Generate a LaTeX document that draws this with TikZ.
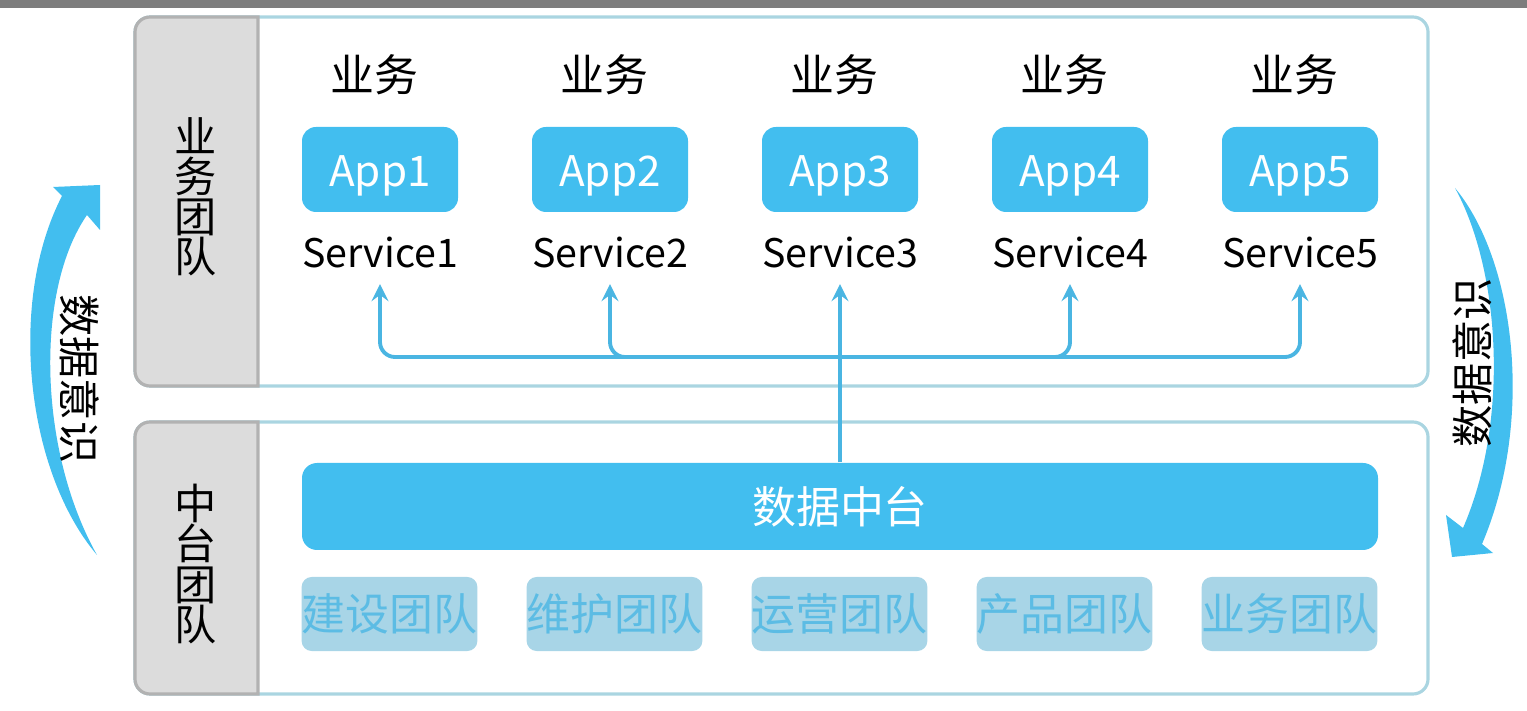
\documentclass[tikz,border=0pt]{standalone}
\usepackage{fontspec}
\newfontfamily\cjk{Noto Sans CJK SC}
\usepackage{tikz}
\usetikzlibrary{arrows,positioning}
\definecolor{appblue}{RGB}{66,190,239}
\definecolor{linkblue}{RGB}{74,181,226}
\definecolor{frameblue}{RGB}{170,213,225}
\definecolor{panelgray}{RGB}{220,220,220}
\definecolor{panelline}{RGB}{178,178,178}
\definecolor{teamfill}{RGB}{168,213,231}
\definecolor{teamtext}{RGB}{92,188,228}
\definecolor{topbar}{RGB}{125,125,125}

\begin{document}
\begin{tikzpicture}[
font=\cjk,
frame/.style={draw=frameblue, line width=0.9pt, rounded corners=0.15cm},
panel/.style={draw=panelline, fill=panelgray, line width=0.9pt},
paneltext/.style={align=center, font=\cjk\fontsize{12}{11.4}\selectfont},
biz/.style={font=\cjk\fontsize{12.5}{14}\selectfont},
app/.style={fill=appblue, text=white, rounded corners=0.14cm, minimum width=1.56cm, minimum height=0.85cm, text height=9.8pt, text depth=0pt, font=\cjk\fontsize{12}{14}\selectfont},
svc/.style={inner sep=0.15cm, font=\cjk\fontsize{11.2}{13}\selectfont},
platform/.style={fill=appblue, text=white, rounded corners=0.15cm, minimum width=10.76cm, minimum height=0.87cm, font=\cjk\fontsize{12.5}{15}\selectfont},
team/.style={fill=teamfill, text=teamtext, rounded corners=0.1cm, minimum width=1.75cm, minimum height=0.74cm, inner sep=0pt, font=\cjk\fontsize{12.5}{15}\selectfont},
link/.style={->, >=stealth, draw=linkblue, line width=1.1pt, rounded corners=0.15cm},
cycletext/.style={font=\cjk\fontsize{12}{14}\selectfont}
]
    \useasboundingbox (0,0) rectangle (15.27,7.10);
    \fill [topbar] (0,7.02) rectangle (15.27,7.10);

    % Draw frames
    \draw [frame] (1.35,3.24) rectangle (14.28,6.93);
    \draw [frame] (1.35,0.16) rectangle (14.28,2.88);

    \filldraw [panel] (2.58,6.93) -- (1.50,6.93) arc[start angle=90, end angle=180, radius=0.15]
        -- (1.35,3.39) arc[start angle=180, end angle=270, radius=0.15] -- (2.58,3.24) -- cycle;
    \filldraw [panel] (2.58,2.88) -- (1.50,2.88) arc[start angle=90, end angle=180, radius=0.15]
        -- (1.35,0.31) arc[start angle=180, end angle=270, radius=0.15] -- (2.58,0.16) -- cycle;

    \node [paneltext] (bizteam) at (1.96,5.13) {业\\务\\团\\队};
    \node [paneltext] (midteam) at (1.96,1.46) {中\\台\\团\\队};

    % Business apps
    \node [biz] (biz1) at (3.74,6.35) {业务};
    \node [biz] (biz2) at (6.04,6.35) {业务};
    \node [biz] (biz3) at (8.34,6.35) {业务};
    \node [biz] (biz4) at (10.64,6.35) {业务};
    \node [biz] (biz5) at (12.94,6.35) {业务};

    \node [app] (app1) at (3.80,5.405) {App1};
    \node [app] (app2) at (6.10,5.405) {App2};
    \node [app] (app3) at (8.40,5.405) {App3};
    \node [app] (app4) at (10.70,5.405) {App4};
    \node [app] (app5) at (13.00,5.405) {App5};

    \node [svc] (svc1) at (3.80,4.57) {Service1};
    \node [svc] (svc2) at (6.10,4.57) {Service2};
    \node [svc] (svc3) at (8.40,4.57) {Service3};
    \node [svc] (svc4) at (10.70,4.57) {Service4};
    \node [svc] (svc5) at (13.00,4.57) {Service5};

    % Data platform and teams
    \node [platform] (dp) at (8.40,2.035) {数据中台};

    \node [team] (team1) at (3.895,0.96) {建设团队};
    \node [team] (team2) at (6.145,0.96) {维护团队};
    \node [team] (team3) at (8.395,0.96) {运营团队};
    \node [team] (team4) at (10.645,0.96) {产品团队};
    \node [team] (team5) at (12.895,0.96) {业务团队};

    % Links
    \coordinate (hub) at (8.40,3.53);
    \draw [link] (hub) -| (svc1.south);
    \draw [link] (hub) -| (svc2.south);
    \draw [link] (hub) -| (svc4.south);
    \draw [link] (hub) -| (svc5.south);
    \draw [link] (dp.north) -- (svc3.south);

    % Side arrows
    \fill [appblue] (0.97,1.55) .. controls (0.25,2.40) and (0.08,4.10) .. (0.62,5.14)
        -- (0.53,5.23) -- (1.00,5.25) -- (1.00,4.80) -- (0.87,4.95)
        .. controls (0.35,4.20) and (0.38,2.60) .. (0.97,1.55) -- cycle;
    \fill [appblue] (14.55,5.22) .. controls (15.15,4.50) and (15.35,2.90) .. (14.82,1.66)
        -- (14.93,1.57) -- (14.52,1.53) -- (14.46,1.95) -- (14.63,1.82)
        .. controls (15.10,2.90) and (15.00,4.40) .. (14.55,5.22) -- cycle;

    \node [cycletext, rotate=-90] (leftcycle) at (0.80,3.31) {数据意识};
    \node [cycletext, rotate=90] (rightcycle) at (14.72,3.47) {数据意识};

\end{tikzpicture}
\end{document}
